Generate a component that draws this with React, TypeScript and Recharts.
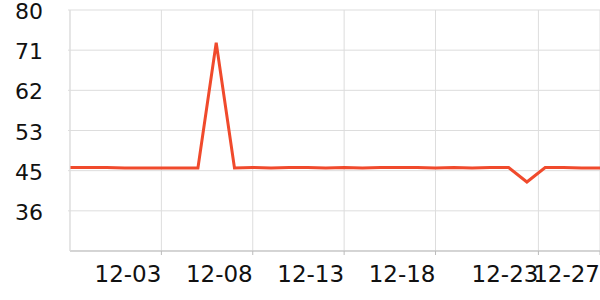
import React from "react";
import {
  LineChart,
  Line,
  XAxis,
  YAxis,
  CartesianGrid,
} from "recharts";

// one point per day, 11-28 .. 12-27
const days = [
  "11-28", "11-29", "11-30", "12-01", "12-02", "12-03", "12-04", "12-05",
  "12-06", "12-07", "12-08", "12-09", "12-10", "12-11", "12-12", "12-13",
  "12-14", "12-15", "12-16", "12-17", "12-18", "12-19", "12-20", "12-21",
  "12-22", "12-23", "12-24", "12-25", "12-26", "12-27",
];

const values = [
  45.3, 45.3, 45.3, 45.2, 45.2, 45.2, 45.2, 45.2,
  72.8, 45.2, 45.3, 45.2, 45.3, 45.3, 45.2, 45.3,
  45.2, 45.3, 45.3, 45.3, 45.2, 45.3, 45.2, 45.3,
  45.3, 42.1, 45.3, 45.3, 45.2, 45.2,
];

const xTicks = [5, 10, 15, 20, 25.63, 29];
const xTickLabels = ["12-03", "12-08", "12-13", "12-18", "12-23", "12-27"];

const yDomain = [26.9, 80];
const yTicks = [80, 71.15, 62.3, 53.45, 44.6, 35.75];

const data = days.map((d, i) => ({ idx: i, day: d, value: values[i] }));

const XTick = ({ x, y, index }: any) => {
  return (
    <text
      x={x}
      y={y}
      dy={25}
      textAnchor="end"
      fontSize={23}
      fill="#111"
      fontFamily="DejaVu Sans"
    >
      {xTickLabels[index]}
    </text>
  );
};

const YTick = ({ x, y, payload }: any) => {
  return (
    <text
      x={x + 1}
      y={y}
      dy={9}
      textAnchor="end"
      fontSize={22}
      fill="#111"
      fontFamily="DejaVu Sans"
    >
      {Math.round(payload.value)}
    </text>
  );
};

export default function App() {
  return (
    <div style={{ position: "absolute", top: 0, left: 0, width: 600, height: 300 }}>
      <LineChart
        width={600}
        height={300}
        data={data}
        margin={{ top: 10, right: 0, bottom: 0, left: 0 }}
      >
        <CartesianGrid stroke="#dddddd" strokeWidth={1} />
        <XAxis
          dataKey="idx"
          type="number"
          domain={[0, 29]}
          ticks={xTicks}
          interval={0}
          height={49}
          axisLine={{ stroke: "#bbbbbb" }}
          tickLine={{ stroke: "#bbbbbb" }}
          tickSize={4}
          tick={<XTick />}
        />
        <YAxis
          type="number"
          domain={yDomain}
          ticks={yTicks}
          interval={0}
          width={70}
          axisLine={{ stroke: "#dddddd" }}
          tickLine={{ stroke: "#dddddd" }}
          tickSize={2}
          tickMargin={26}
          tick={<YTick />}
        />
        <Line
          type="linear"
          dataKey="value"
          stroke="#f04a2c"
          strokeWidth={3}
          dot={false}
          isAnimationActive={false}
        />
      </LineChart>
    </div>
  );
}
